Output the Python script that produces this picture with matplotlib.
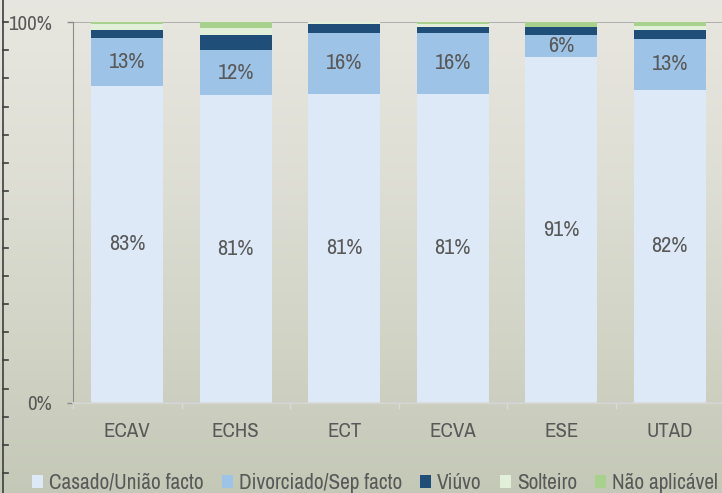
import numpy as np
import matplotlib
matplotlib.use("Agg")
import matplotlib.pyplot as plt
from matplotlib.lines import Line2D
from matplotlib.ticker import FixedLocator

plt.rcParams["font.family"] = ["Arial Narrow", "Liberation Sans Narrow", "Archivo Narrow",
                               "PT Sans Narrow", "Roboto Condensed", "Liberation Sans",
                               "DejaVu Sans"]

# data (percent of respondents per school)
schools = ["ECAV", "ECHS", "ECT", "ECVA", "ESE", "UTAD"]
casado = [83.3, 80.6, 81.2, 81.2, 90.7, 82.1]
divorciado = [12.6, 11.8, 16.0, 16.0, 5.9, 13.4]
viuvo = [1.9, 3.9, 2.2, 1.6, 2.2, 2.4]
solteiro = [1.6, 1.8, 0.6, 0.7, 0.0, 1.0]
nao_aplicavel = [0.6, 1.7, 0.0, 0.5, 1.2, 1.0]
casado_labels = ["83%", "81%", "81%", "81%", "91%", "82%"]
divorciado_labels = ["13%", "12%", "16%", "16%", "6%", "13%"]

series = [
    ("Casado/União facto", casado, "#dde9f6"),
    ("Divorciado/Sep facto", divorciado, "#9dc3e6"),
    ("Viúvo", viuvo, "#1f4e79"),
    ("Solteiro", solteiro, "#e2efd9"),
    ("Não aplicável", nao_aplicavel, "#a9d18e"),
]

txt = "#595959"

fig = plt.figure(figsize=(7.22, 4.93), dpi=100)

# background: soft grey-green wash instead of the photo
bg = fig.add_axes([0, 0, 1, 1], zorder=-10)
grad = np.linspace(0, 1, 256)[:, None]
top = np.array([0.905, 0.902, 0.875])
bot = np.array([0.770, 0.785, 0.715])
img = top + (bot - top) * grad[..., None] ** 1.3
bg.imshow(img, aspect="auto", extent=[0, 1, 0, 1])
bg.axis("off")

# ruler on the left edge of the slide
fig.add_artist(Line2D([3 / 722, 3 / 722], [0, 1], color="#3f3f3f", lw=1.2))
for k in range(17):
    yy = 1 - (22 + k * 28.2) / 493
    fig.add_artist(Line2D([3 / 722, 8 / 722], [yy, yy], color="#3f3f3f", lw=1.2))

ax = fig.add_axes([73 / 722, 90 / 493, 651 / 722, 381 / 493])
ax.patch.set_alpha(0)

x = np.arange(len(schools))
totals = np.sum([s[1] for s in series], axis=0)
bottom = np.zeros(len(schools))
containers = []
for name, vals, col in series:
    share = np.array(vals) / totals
    c = ax.bar(x, share, 0.664, bottom=bottom, color=col, label=name, zorder=2)
    containers.append(c)
    bottom += share

ax.bar_label(containers[0], labels=casado_labels, label_type="center",
             color=txt, fontsize=16)
ax.bar_label(containers[1], labels=divorciado_labels, label_type="center",
             color=txt, fontsize=16)

ax.set_xlim(-0.5, len(schools) - 0.5)
ax.set_ylim(0, 1)
ax.set_yticks([0, 1])
ax.set_yticklabels(["0%", "100%"])
ax.set_xticks(x)
ax.set_xticklabels(schools)
ax.xaxis.set_minor_locator(FixedLocator(np.arange(-0.5, len(schools), 1)))
ax.tick_params(axis="x", which="major", length=0, pad=14, labelsize=15, labelcolor=txt)
ax.tick_params(axis="x", which="minor", length=4, color="#d9d9d9", width=1)
ax.tick_params(axis="y", length=4.5, color="#8c8c8c", width=1, pad=10.5,
               labelsize=15, labelcolor=txt)

ax.set_axisbelow(True)
ax.yaxis.grid(True, color="#a6a6a6", lw=1.2)
for s in ["top", "right"]:
    ax.spines[s].set_visible(False)
ax.spines["left"].set_color("#8c8c8c")
ax.spines["bottom"].set_color("#d9d9d9")
ax.spines["bottom"].set_linewidth(1.2)
ax.spines["bottom"].set_zorder(3)

fig.legend(loc="lower left", bbox_to_anchor=(32 / 722, 0.0), ncol=5, frameon=False,
           fontsize=15.3, labelcolor=txt, handlelength=0.52, handleheight=0.52,
           handletextpad=0.28, columnspacing=0.85, borderpad=0, borderaxespad=0)

fig.savefig("out.png", dpi=100)
